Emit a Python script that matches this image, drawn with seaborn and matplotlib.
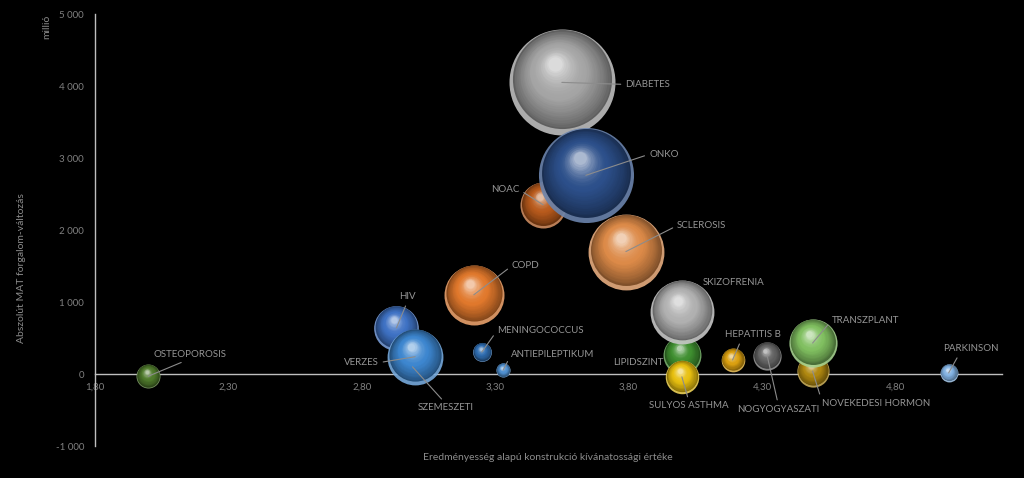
import numpy as np
import pandas as pd
import seaborn as sns
import matplotlib
matplotlib.use('Agg')
import matplotlib.pyplot as plt
from matplotlib.colors import to_rgb
from matplotlib.transforms import ScaledTranslation
from matplotlib.ticker import FuncFormatter

# adatok (rajzolasi sorrendben, kesobbi = elol)
kategoriak = ['OSTEOPOROSIS', 'HIV', 'SZEMESZETI', 'VERZES', 'MENINGOCOCCUS',
              'ANTIEPILEPTIKUM', 'COPD', 'DIABETES', 'NOAC', 'ONKO', 'SCLEROSIS',
              'LIPIDSZINT', 'SKIZOFRENIA', 'SULYOS ASTHMA', 'HEPATITIS B',
              'NOGYOGYASZATI', 'NOVEKEDESI HORMON', 'TRANSZPLANT', 'PARKINSON']
x_ertek = [2.00, 2.93, 2.99, 3.00, 3.25, 3.33, 3.22, 3.55, 3.48, 3.64, 3.79,
           4.00, 4.00, 4.00, 4.19, 4.32, 4.49, 4.49, 5.00]
y_ertek = [-30, 640, 100, 240, 305, 55, 1100, 4050, 2350, 2760, 1700,
           265, 860, -40, 195, 250, 40, 430, 15]
meret = [1.44, 5.0, 0.6, 7.8, 0.9, 0.5, 9.0, 28.1, 5.3, 22.6, 14.4,
         3.6, 10.2, 2.8, 1.4, 2.0, 2.6, 5.8, 0.8]
x_tickek = [1.80, 2.30, 2.80, 3.30, 3.80, 4.30, 4.80]
y_tickek = [-1000, 0, 1000, 2000, 3000, 4000, 5000]

szinek = {
    'OSTEOPOROSIS': '#4f7a2c', 'HIV': '#3f72c4', 'SZEMESZETI': '#4a8ad0',
    'VERZES': '#3d86cf', 'MENINGOCOCCUS': '#2f6db0', 'ANTIEPILEPTIKUM': '#4f8fd0',
    'COPD': '#e0782c', 'DIABETES': '#a4a4a4', 'NOAC': '#b85a1c',
    'ONKO': '#2c4f8a', 'SCLEROSIS': '#dc8a48', 'LIPIDSZINT': '#3f8f30',
    'SKIZOFRENIA': '#b0b0b0', 'SULYOS ASTHMA': '#e8c010', 'HEPATITIS B': '#dba010',
    'NOGYOGYASZATI': '#666666', 'NOVEKEDESI HORMON': '#b08810',
    'TRANSZPLANT': '#80bf60', 'PARKINSON': '#80b0e0'}

# cimke eltolas pixelben (dx jobbra, dy felfele) + vonal kezdopontja a szovegen
cimkek = {
    'OSTEOPOROSIS': (42, 22, (0.5, 0)), 'HIV': (11, 31, (0.5, 0)),
    'VERZES': (-54, -6, (1, 0.5)), 'SZEMESZETI': (33, -41, (0.5, 1)),
    'COPD': (52, 29, (0, 0.5)), 'MENINGOCOCCUS': (59, 22, (0, 0.5)),
    'ANTIEPILEPTIKUM': (50, 16, (0, 0.5)), 'NOAC': (-38, 15, (1, 0.5)),
    'DIABETES': (86, -2, (0, 0.5)), 'ONKO': (78, 21, (0, 0.5)),
    'SCLEROSIS': (76, 26, (0, 0.5)), 'SKIZOFRENIA': (52, 30, None),
    'LIPIDSZINT': (-44, -8, None), 'SULYOS ASTHMA': (7, -29, (0.5, 1)),
    'HEPATITIS B': (20, 25, (0.3, 0)), 'NOGYOGYASZATI': (11, -53, (0.5, 1)),
    'TRANSZPLANT': (53, 23, (0, 0.5)), 'NOVEKEDESI HORMON': (64, -32, (0, 0.5)),
    'PARKINSON': (22, 24, (0.3, 0))}

df = pd.DataFrame({'kategoria': kategoriak, 'x': x_ertek, 'y': y_ertek, 'meret': meret})

sns.set_style('dark', {'axes.facecolor': 'black', 'figure.facecolor': 'black'})
plt.rcParams['font.family'] = ['Lato', 'DejaVu Sans']

fig = plt.figure(figsize=(10.24, 4.78), dpi=100)
fig.patch.set_facecolor('black')
ax = fig.add_axes([95/1024, 1-446/478, (1002-95)/1024, (446-14)/478])
ax.set_facecolor('black')

max_terulet = (53*2*0.72)**2
n_reteg = 26


def arnyalat(szin, t):
    base = np.array(to_rgb(szin))
    dark = base*0.58
    light = base + (1-base)*0.6
    if t < 0.5:
        return dark + (base-dark)*(t/0.5)**0.8
    u = (t-0.5)/0.5
    return base + (light-base)*u**1.8


z = 2
for i, row in df.iterrows():
    base = np.array(to_rgb(szinek[row['kategoria']]))
    perem = base + (1-base)*0.3
    sns.scatterplot(data=df.iloc[[i]], x='x', y='y', size='meret',
                    sizes=(0, max_terulet), size_norm=(0, max(meret)),
                    color=perem, linewidth=0, alpha=0.9, legend=False,
                    ax=ax, zorder=z)
    s = ax.collections[-1].get_sizes()[0]
    R = np.sqrt(s)/2  # sugar pontban
    z += 1
    for k in range(n_reteg+1):
        t = k/n_reteg
        f = 0.935 - 0.80*t
        ox = -0.13*R*t
        oy = 0.055*R + 0.30*R*t
        tr = ax.transData + ScaledTranslation(ox/72, oy/72, fig.dpi_scale_trans)
        ax.scatter([row['x']], [row['y']], s=s*f*f, color=arnyalat(szinek[row['kategoria']], t),
                   linewidth=0, transform=tr, zorder=z)
        z += 1

# cimkek
for i, row in df.iterrows():
    dx, dy, rel = cimkek[row['kategoria']]
    ap = None
    if rel is not None:
        ap = dict(arrowstyle='-', color='#8c8c8c', lw=0.8, relpos=rel,
                  shrinkA=1, shrinkB=0)
    ax.annotate(row['kategoria'], xy=(row['x'], row['y']),
                xytext=(dx*0.72, dy*0.72), textcoords='offset points',
                ha='center', va='center', fontsize=7, color='#969696',
                arrowprops=ap, zorder=1000)

ax.set_xlim(1.8, 5.2)
ax.set_ylim(-1000, 5000)
ax.grid(False)
for sp in ['top', 'right']:
    ax.spines[sp].set_visible(False)
ax.spines['bottom'].set_position(('data', 0))
for sp in ['left', 'bottom']:
    ax.spines[sp].set_color('#bfbfbf')
    ax.spines[sp].set_linewidth(1)
    ax.spines[sp].set_zorder(1)
ax.set_xticks(x_tickek)
ax.set_yticks(y_tickek)
ax.xaxis.set_major_formatter(FuncFormatter(lambda v, p: f'{v:.2f}'.replace('.', ',')))
ax.yaxis.set_major_formatter(FuncFormatter(lambda v, p: f'{v:,.0f}'.replace(',', ' ')))
ax.tick_params(axis='both', length=0, colors='#808080', labelsize=7)
ax.tick_params(axis='x', pad=6)
ax.tick_params(axis='y', pad=8)
ax.set_xlabel('')
ax.set_ylabel('')

fig.text(548/1024, 1-458/478, 'Eredményesség alapú konstrukció kívánatossági értéke',
         ha='center', va='center', fontsize=7.5, color='#8c8c8c')
fig.text(22/1024, 1-268/478, 'Abszolút MAT forgalom-változás', rotation=90,
         ha='center', va='center', fontsize=7.5, color='#8c8c8c')
fig.text(47/1024, 1-27/478, 'millió', rotation=90,
         ha='center', va='center', fontsize=7.5, color='#8c8c8c')

fig.savefig('out.png', dpi=100, facecolor='black')
